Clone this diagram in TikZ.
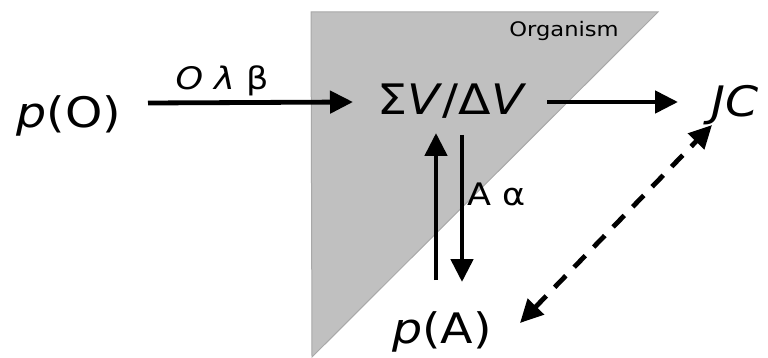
\documentclass[tikz,border=0pt]{standalone}
\usepackage{fontspec}
\setmainfont{DejaVu Sans}
\usetikzlibrary{arrows.meta,calc}
\definecolor{orgfill}{HTML}{C0C0C0}
\definecolor{orgedge}{HTML}{A8A8A8}
\tikzset{
  txt/.style={inner sep=0pt, anchor=base, xscale=1.13},
  big/.style={txt, font=\fontsize{42}{48}\selectfont},
  mid/.style={txt, font=\fontsize{31}{36}\selectfont},
  small/.style={txt, font=\fontsize{20}{24}\selectfont},
  tip/.style={Triangle[length=23pt,width=22pt]},
  arr/.style={line width=4.8pt, -{Triangle[length=23pt,width=22pt]}},
  darr/.style={line width=4.8pt, dash pattern=on 16pt off 12pt, {Triangle[length=23pt,width=22pt]}-{Triangle[length=23pt,width=22pt]}}
}
\begin{document}
\begin{tikzpicture}[x=1pt,y=-1pt]
\useasboundingbox (0,0) rectangle (768,358);
\filldraw[fill=orgfill, draw=orgedge, line width=1pt] (311,12) -- (658,12) -- (312,357) -- cycle;
\node[small] (org) at (564,37) {Organism};
\node[big] (pO) at (69,128) {\textit{p}(O)};
\node[big] (sv) at (452,115) {Σ\textit{V}/Δ\textit{V}};
\node[big] (jc) at (735,117) {\textit{JC}};
\node[big] (pA) at (442,343) {\textit{p}(A)};
\node[mid] (l1) at (222,90) {\textit{O λ} β};
\node[mid] (l2) at (497,205) {A α};
\draw[arr] ($(pO.base)+(79,-25)$) -- ($(sv.base)+(-99,-13)$);
\draw[arr] ($(sv.base)+(95,-13)$) -- ($(jc.base)+(-57,-15)$);
\draw[arr] ($(pA.base)+(-6,-63)$) -- ($(sv.base)+(-16,18)$);
\draw[arr] ($(sv.base)+(10,20)$) -- ($(pA.base)+(20,-61)$);
\draw[darr] ($(pA.base)+(78,-20)$) -- ($(jc.base)+(-23,8)$);
\end{tikzpicture}
\end{document}
